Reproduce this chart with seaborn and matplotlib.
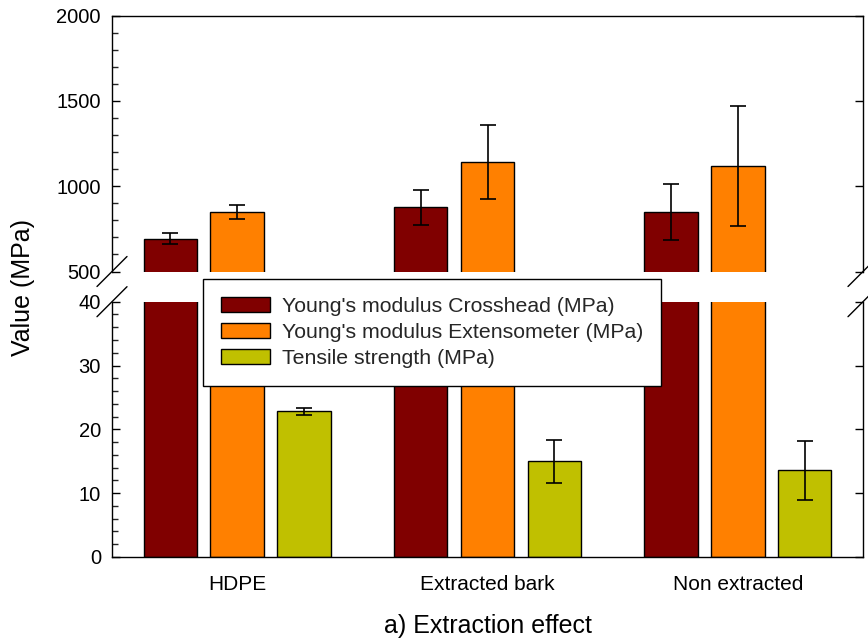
import numpy as np
import pandas as pd
import matplotlib
matplotlib.use("Agg")
import matplotlib.pyplot as plt
from matplotlib.patches import Patch
from matplotlib.ticker import MultipleLocator
import seaborn as sns

# Mean values and standard deviations per sample
samples = ["HDPE", "Extracted bark", "Non extracted"]
properties = ["Young's modulus Crosshead (MPa)",
              "Young's modulus Extensometer (MPa)",
              "Tensile strength (MPa)"]
modulus_crosshead = [692, 876, 848]
modulus_crosshead_sd = [33, 103, 162]
modulus_extensometer = [848, 1143, 1116]
modulus_extensometer_sd = [42, 218, 352]
tensile_strength = [22.8, 15.0, 13.6]
tensile_strength_sd = [0.55, 3.4, 4.6]
colors = ["#800000", "#FF8000", "#C0C000"]

sns.set_theme(style="ticks")
plt.rcParams["font.family"] = ["Liberation Sans", "DejaVu Sans"]
plt.rcParams["axes.linewidth"] = 1.0

means = [modulus_crosshead, modulus_extensometer, tensile_strength]
sds = [modulus_crosshead_sd, modulus_extensometer_sd, tensile_strength_sd]
df = pd.DataFrame({
    "sample": samples * 3,
    "property": np.repeat(properties, len(samples)),
    "value": np.concatenate(means),
    "sd": np.concatenate(sds),
})

W, H = 868, 643
fig = plt.figure(figsize=(W / 100, H / 100), dpi=100)
left, right = 112 / W, 863 / W
ax_top = fig.add_axes([left, 1 - 271.5 / H, right - left, (271.5 - 15.5) / H])
ax_bot = fig.add_axes([left, 1 - 557 / H, right - left, (557 - 301.7) / H])

for ax in (ax_top, ax_bot):
    sns.barplot(data=df, x="sample", y="value", hue="property",
                order=samples, hue_order=properties, palette=colors,
                saturation=1, width=0.8, gap=0.2, edgecolor="black",
                linewidth=1.0, errorbar=None, legend=False, ax=ax)
    # error bars at the centre of each bar
    for container, prop in zip(ax.containers, properties):
        sub = df[df["property"] == prop].set_index("sample")
        xs, ys, es = [], [], []
        for bar in container:
            xc = bar.get_x() + bar.get_width() / 2
            name = samples[int(round(xc))]
            xs.append(xc)
            ys.append(sub.loc[name, "value"])
            es.append(sub.loc[name, "sd"])
        ax.errorbar(xs, ys, yerr=es, fmt="none", ecolor="black",
                    elinewidth=1.2, capsize=6, capthick=1.2, zorder=4)
    ax.set_xlim(-0.5, 2.5)
    ax.set_xlabel("")
    ax.set_ylabel("")
    for s in ax.spines.values():
        s.set_color("black")
        s.set_linewidth(1.0)
    ax.tick_params(axis="y", which="major", direction="in", length=6,
                   width=1.0, left=True, right=True, labelsize=14.5,
                   pad=8, colors="black")
    ax.tick_params(axis="y", which="minor", direction="in", length=4.5,
                   width=1.0, left=True, right=False)

# upper panel: modulus range
ax_top.set_ylim(500, 2000)
ax_top.yaxis.set_major_locator(MultipleLocator(500))
ax_top.yaxis.set_minor_locator(MultipleLocator(100))
ax_top.spines["bottom"].set_visible(False)
ax_top.tick_params(axis="x", bottom=False, labelbottom=False)

# lower panel: strength range
ax_bot.set_ylim(0, 40)
ax_bot.yaxis.set_major_locator(MultipleLocator(10))
ax_bot.yaxis.set_minor_locator(MultipleLocator(2))
ax_bot.spines["top"].set_visible(False)
ax_bot.tick_params(axis="x", length=0, labelsize=15, pad=13, colors="black")
ax_bot.set_xlabel("a) Extraction effect", fontsize=18, labelpad=14, color="black")

# axis break marks
ax_w = 751
for ax, y0, h in ((ax_top, 0, 256), (ax_bot, 1, 255.3)):
    dx, dy = 15 / ax_w, 15 / h
    for x0 in (0, 1):
        ax.plot([x0 - dx, x0 + dx], [y0 - dy, y0 + dy], color="black",
                lw=1.0, transform=ax.transAxes, clip_on=False)

fig.text(23 / W, 1 - 287 / H, "Value (MPa)", rotation=90, fontsize=18,
         ha="center", va="center", color="black")

handles = [Patch(facecolor=c, edgecolor="black", linewidth=1.0) for c in colors]
fig.legend(handles, properties, loc="upper left", mode="expand",
           bbox_to_anchor=(203 / W, 1 - 385 / H, 458 / W, 106 / H),
           borderaxespad=0, fontsize=15.3, frameon=True, fancybox=False,
           framealpha=1, edgecolor="black", handlelength=2.3,
           handleheight=0.7, handletextpad=0.55, labelspacing=0.32,
           borderpad=0.85)

fig.savefig("out.png", dpi=100)
